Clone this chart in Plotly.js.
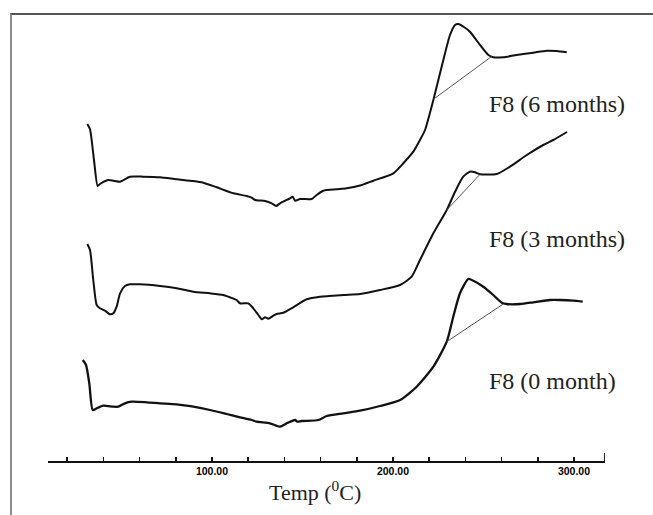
<!DOCTYPE html>
<html>
<head>
<meta charset="utf-8">
<script src="https://cdn.plot.ly/plotly-3.0.1.min.js"></script>
<style>
  html, body { margin: 0; padding: 0; background: #fff; }
  #wrap { position: relative; width: 653px; height: 515px; }
  #chart { position: absolute; left: 0; top: 0; width: 653px; height: 515px; }
  #frame {
    position: absolute; left: 10px; top: 13px; width: 643px; height: 502px;
    border-top: 2px solid #555; border-left: 2px solid #8c8c8c;
    box-sizing: border-box; pointer-events: none;
  }
</style>
</head>
<body>
<div id="wrap">
  <div id="chart"></div>
  <div id="frame"></div>
</div>
<script>
// DSC thermograms of formulation F8 over storage time (heat flow, arbitrary units, stacked)

// F8 after 6 months
const temp6m = [31.1, 32.6, 34.8, 36.8, 38.1, 42.7, 46.4, 49.2, 54.7, 62.0, 71.3, 80.5, 89.7, 95.2,
  102.6, 111.8, 119.2, 121.9, 123.8, 129.3, 133.0, 135.4, 137.6, 143.1, 144.6, 145.9, 148.6, 155.1,
  157.8, 161.5, 168.9, 174.4, 181.8, 189.1, 200.2, 205.7, 211.2, 214.9, 217.7, 222.3, 227.8, 231.5,
  234.3, 236.1, 239.2, 242.5, 248.1, 252.7, 255.4, 260.9, 268.3, 277.5, 284.9, 290.4, 296.0];
const heat6m = [337, 331.7, 301, 275, 277, 281, 280, 279.3, 284.3, 284.3, 283.7, 281.7, 280, 278.3,
  273.7, 267.7, 265, 263.3, 261, 260, 257.7, 255, 257.7, 262.7, 264.3, 260.3, 262, 262,
  266, 270.3, 271.7, 272.7, 275.5, 280.3, 287.7, 297.7, 309.3, 321, 331, 361, 401, 426,
  436, 437, 434, 429.3, 416, 406, 403.7, 403.7, 406, 408.3, 410.3, 410, 408.7];

// F8 after 3 months
const temp3m = [31.1, 32.6, 34.4, 36.3, 38.1, 40.9, 43.6, 45.5, 47.3, 49.2, 51.9, 54.7, 60.2, 71.3,
  80.5, 89.7, 98.9, 106.2, 109.9, 113.6, 115.5, 120.1, 122.8, 125.6, 127.5, 129.3, 131.1, 133.9,
  135.7, 139.4, 144.9, 152.3, 159.7, 172.5, 181.8, 192.8, 203.9, 210.3, 214.9, 222.3, 229.7, 234.3,
  238.8, 242.5, 245.3, 248.1, 257.3, 264.6, 273.9, 283.0, 288.6, 296.1];
const heat3m = [217, 211, 181, 156, 152.7, 150.3, 146.7, 147.7, 154.3, 167.7, 175, 176.7, 176.7, 175,
  172.7, 169.3, 167.7, 166, 163.7, 161, 157.7, 157.7, 152.7, 146, 141.7, 143.7, 142.3, 145.3,
  147, 148.3, 153.7, 161.7, 164.3, 166, 167, 171, 176, 184.3, 201, 227.7, 251, 269.3,
  284.3, 289.3, 288.7, 286.7, 287, 294.3, 306, 316, 321, 329];

// F8 at 0 month
const temp0m = [28.6, 30.4, 32.2, 34.1, 36.3, 39.9, 45.5, 48.2, 51.9, 55.6, 63.9, 71.3, 80.5, 89.7,
  98.9, 108.1, 115.5, 121.9, 124.7, 132.0, 137.6, 141.3, 145.9, 147.1, 149.6, 158.7, 163.4, 172.5,
  181.8, 192.8, 203.9, 213.1, 222.3, 229.7, 233.3, 237.0, 241.6, 244.4, 249.9, 255.4, 260.1, 262.8,
  270.2, 277.5, 286.7, 292.3, 299.6, 304.8];
const heat0m = [101, 96, 77.7, 51, 52.7, 55.3, 54.3, 54.3, 57.7, 59.3, 58.7, 57.7, 56.7, 54.3,
  51, 47, 43.7, 41, 39.3, 37.7, 34.3, 37.7, 41, 39.3, 40, 41, 45, 47.7,
  50.3, 55, 61, 74.3, 94.3, 119.3, 144.3, 167.7, 182, 180.3, 174.3, 166, 158.3, 157,
  157, 158.7, 161, 161, 160.3, 159.3];

// Integration baselines under the melting endotherms
const base6mT = [222.5, 254.5];
const base6mY = [362, 404.5];
const base3mT = [229.7, 248.1];
const base3mY = [251, 286.7];
const base0mT = [229.7, 260.9];
const base0mY = [119.3, 157];

// Curve labels
const labelText = ['F8 (6 months)', 'F8 (3 months)', 'F8 (0 month)'];
const labelT = [252.2, 252.2, 252.2];
const labelY = [357, 222, 80];

// Axis ticks
const tickVals = [20, 40, 60, 80, 100, 120, 140, 160, 180, 200, 220, 240, 260, 280, 300];
const tickText = ['', '', '', '', '100.00', '', '', '', '', '200.00', '', '', '', '', '300.00'];
const X_RANGE = [9.39, 317.13];
const Y_RANGE = [0, 447];
const xTitle = 'Temp (<sup>0</sup>C)';

const curveLine = { color: '#111', width: 2, shape: 'spline', smoothing: 0.6 };
const baseLine = { color: '#555', width: 1 };

const traces = [
  { x: temp6m, y: heat6m, mode: 'lines', line: curveLine, name: 'F8 (6 months)' },
  { x: temp3m, y: heat3m, mode: 'lines', line: curveLine, name: 'F8 (3 months)' },
  { x: temp0m, y: heat0m, mode: 'lines', line: Object.assign({}, curveLine, { width: 2.3 }), name: 'F8 (0 month)' },
  { x: base6mT, y: base6mY, mode: 'lines', line: baseLine, name: 'baseline 6m' },
  { x: base3mT, y: base3mY, mode: 'lines', line: baseLine, name: 'baseline 3m' },
  { x: base0mT, y: base0mY, mode: 'lines', line: baseLine, name: 'baseline 0m' }
];

const serif = 'Liberation Serif, Times New Roman, serif';

const annotations = labelText.map((t, i) => ({
  text: t, x: labelT[i], y: labelY[i], xref: 'x', yref: 'y',
  xanchor: 'left', yanchor: 'middle', showarrow: false,
  font: { family: serif, size: 24, color: '#222' }
}));

// axis title, set a little left of the plot centre
annotations.push({
  text: xTitle, xref: 'paper', yref: 'paper', x: 0.479, y: -0.068,
  xanchor: 'center', yanchor: 'middle', showarrow: false,
  font: { family: serif, size: 22, color: '#222' }
});

const layout = {
  width: 653, height: 515,
  margin: { l: 48, r: 48, t: 14, b: 54 },
  paper_bgcolor: '#fff', plot_bgcolor: '#fff',
  showlegend: false,
  xaxis: {
    range: X_RANGE, showgrid: false, zeroline: false,
    showline: true, linecolor: '#111', linewidth: 1.8,
    ticks: 'inside', ticklen: 4, tickwidth: 1.5, tickcolor: '#111',
    tickmode: 'array', tickvals: tickVals, ticktext: tickText,
    tickfont: { family: 'Liberation Sans, Arial, sans-serif', size: 10.5, color: '#000', weight: 'bold' }
  },
  yaxis: { range: Y_RANGE, visible: false, showgrid: false, zeroline: false },
  annotations: annotations,
  shapes: [
    // upturned end of the temperature axis
    { type: 'line', xref: 'x', yref: 'paper', x0: X_RANGE[1], x1: X_RANGE[1], y0: 0, y1: 0.018,
      line: { color: '#111', width: 1.8 } }
  ]
};

Plotly.newPlot('chart', traces, layout, { staticPlot: true, displayModeBar: false });
</script>
</body>
</html>
